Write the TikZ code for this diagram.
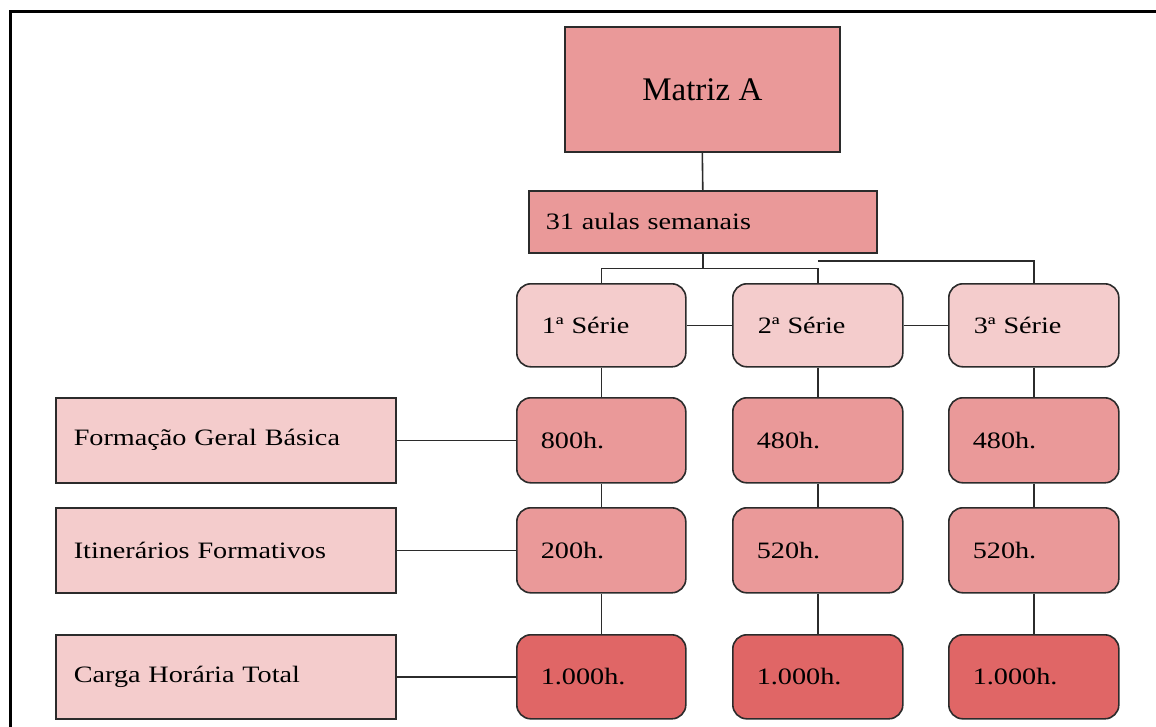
\documentclass[tikz,border=0pt]{standalone}
\usepackage{fontspec}
\setmainfont{Liberation Serif}[FakeStretch=1.2]
\newfontfamily\titlefont{Liberation Serif}
\definecolor{redA}{HTML}{EA9999}
\definecolor{redB}{HTML}{F4CCCC}
\definecolor{redC}{HTML}{E06666}
\definecolor{edge}{HTML}{2B2B2B}
\newcommand{\boxfont}{\fontsize{23.5}{28}\selectfont}
\tikzset{
  base/.style={draw=edge, line width=1.6pt, anchor=north west, inner ysep=0pt,
               align=left, font=\boxfont, text=black},
  sq/.style={base, rectangle},
  rnd/.style={base, rectangle, rounded corners=14pt},
  dims/.style n args={3}{minimum width=#1pt, minimum height=#2pt,
               inner xsep=#3pt, text width=#1pt-2*#3pt},
  link/.style={draw=edge, line width=1.6pt},
  frameline/.style={draw=black, line width=3.5pt},
}
\begin{document}
\begin{tikzpicture}[x=1pt, y=-1pt]
\useasboundingbox (0,0) rectangle (1156,726);

% outer frame
\draw[frameline] (10.5,730) -- (10.5,11.5) -- (1160,11.5);

% title and weekly load
\node[sq, fill=redA, minimum width=275pt, minimum height=125pt, align=center,
      font=\titlefont\fontsize{33}{40}\selectfont] (matriz) at (564,26) {Matriz A};
\node[sq, fill=redA, dims={348}{62}{17}] (aulas) at (528,190) {31 aulas semanais};

% grades
\node[rnd, fill=redB, dims={169}{83}{25}] (s1) at (516,283) {1ª Série};
\node[rnd, fill=redB, dims={170}{83}{25}] (s2) at (732,283) {2ª Série};
\node[rnd, fill=redB, dims={170}{83}{25}] (s3) at (948,283) {3ª Série};

% row labels
\node[sq, fill=redB, dims={340}{85}{18}] (fgb) at (55,397) {Formação Geral Básica};
\node[sq, fill=redB, dims={340}{85}{18}] (itf) at (55,507) {Itinerários Formativos};
\node[sq, fill=redB, dims={340}{84}{18}] (cht) at (55,634) {Carga Horária Total};

% hours per grade
\node[rnd, fill=redA, dims={169}{85}{24}] (a1) at (516,397) {800h.};
\node[rnd, fill=redA, dims={170}{85}{24}] (a2) at (732,397) {480h.};
\node[rnd, fill=redA, dims={170}{85}{24}] (a3) at (948,397) {480h.};

\node[rnd, fill=redA, dims={169}{85}{24}] (b1) at (516,507) {200h.};
\node[rnd, fill=redA, dims={170}{85}{24}] (b2) at (732,507) {520h.};
\node[rnd, fill=redA, dims={170}{85}{24}] (b3) at (948,507) {520h.};

\node[rnd, fill=redC, dims={169}{84}{24}] (c1) at (516,634) {1.000h.};
\node[rnd, fill=redC, dims={170}{84}{24}] (c2) at (732,634) {1.000h.};
\node[rnd, fill=redC, dims={170}{84}{24}] (c3) at (948,634) {1.000h.};

% tree connectors
\coordinate (j1) at ([yshift=-15pt]aulas.south);
\coordinate (j2) at ([yshift=22pt]s2.north);
\draw[link] (matriz.south) -- (aulas.north);
\draw[link] (aulas.south) -- (j1) -| (s1.north);
\draw[link] (j1) -| (s2.north);
\draw[link] (j2) -| (s3.north);
\draw[link] (s1.east) -- (s2.west);
\draw[link] (s2.east) -- (s3.west);

% columns
\foreach \c in {1,2,3}{
  \draw[link] (s\c.south) -- (a\c.north);
  \draw[link] (a\c.south) -- (b\c.north);
  \draw[link] (b\c.south) -- (c\c.north);
}

% row links
\draw[link] (fgb.east) -- (a1.west);
\draw[link] (itf.east) -- (b1.west);
\draw[link] (cht.east) -- (c1.west);
\end{tikzpicture}
\end{document}
